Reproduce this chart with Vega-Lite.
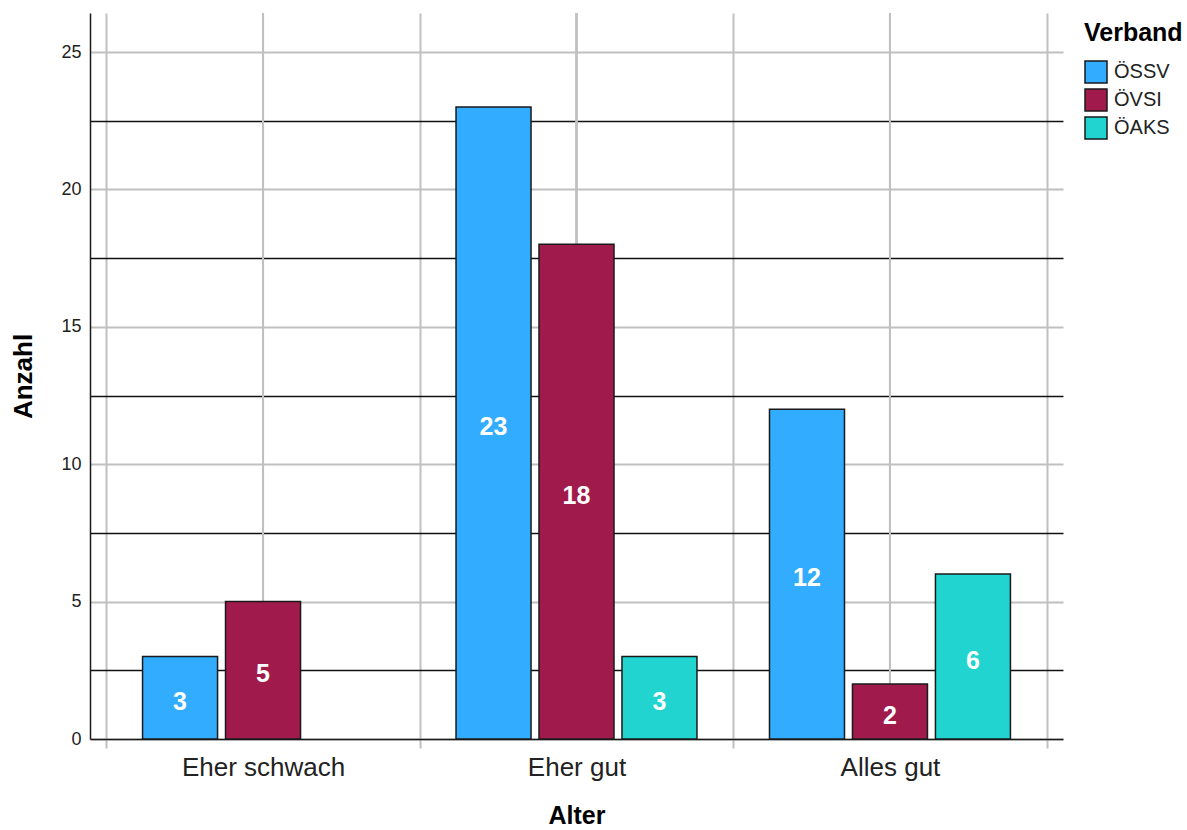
{
  "$schema": "https://vega.github.io/schema/vega-lite/v6.json",
  "autosize": "none",
  "width": 973,
  "height": 726,
  "padding": {"left": 90, "top": 13, "right": 124, "bottom": 91},
  "background": "white",
  "config": {
    "font": "Liberation Sans",
    "view": {"stroke": null}
  },
  "data": {
    "values": [
      {"Alter": "Eher schwach", "Verband": "ÖSSV", "Anzahl": 3},
      {"Alter": "Eher schwach", "Verband": "ÖVSI", "Anzahl": 5},
      {"Alter": "Eher gut", "Verband": "ÖSSV", "Anzahl": 23},
      {"Alter": "Eher gut", "Verband": "ÖVSI", "Anzahl": 18},
      {"Alter": "Eher gut", "Verband": "ÖAKS", "Anzahl": 3},
      {"Alter": "Alles gut", "Verband": "ÖSSV", "Anzahl": 12},
      {"Alter": "Alles gut", "Verband": "ÖVSI", "Anzahl": 2},
      {"Alter": "Alles gut", "Verband": "ÖAKS", "Anzahl": 6}
    ]
  },
  "encoding": {
    "x": {
      "field": "Alter",
      "type": "nominal",
      "sort": ["Eher schwach", "Eher gut", "Alles gut"],
      "scale": {"domain": ["Eher schwach", "Eher gut", "Alles gut"], "paddingInner": 0, "paddingOuter": 0.052},
      "axis": {
        "title": "Alter",
        "titleFontSize": 25,
        "titleFontWeight": "bold",
        "titleColor": "#000000",
        "titlePadding": 23,
        "labelAngle": 0,
        "labelFontSize": 26,
        "labelColor": "#222222",
        "labelPadding": 6,
        "tickBand": "extent",
        "ticks": true,
        "tickSize": 9,
        "tickColor": "#c0c0c0",
        "tickWidth": 2,
        "grid": true,
        "gridColor": "#c0c0c0",
        "gridWidth": 2,
        "domainColor": "#1a1a1a",
        "domainWidth": 1.5
      }
    }
  },
  "layer": [
    {
      "mark": {"type": "rule", "color": "#c0c0c0", "strokeWidth": 2},
      "encoding": {}
    },
    {
      "mark": {"type": "bar", "stroke": "#1a1a1a", "strokeWidth": 1.5},
      "encoding": {
        "xOffset": {
          "field": "Verband",
          "type": "nominal",
          "scale": {"domain": ["ÖSSV", "ÖVSI", "ÖAKS"], "paddingInner": 0.096, "paddingOuter": 0.437}
        },
        "y": {
          "field": "Anzahl",
          "type": "quantitative",
          "scale": {"domain": [0, 26.42], "nice": false, "zero": true},
          "axis": {
            "title": "Anzahl",
            "titleFontSize": 26,
            "titleFontWeight": "bold",
            "titleColor": "#000000",
            "titlePadding": 24,
            "values": [0, 2.5, 5, 7.5, 10, 12.5, 15, 17.5, 20, 22.5, 25],
            "labelExpr": "datum.value % 5 === 0 ? format(datum.value, 'd') : ''",
            "labelOverlap": false,
            "labelFontSize": 18,
            "labelColor": "#222222",
            "labelPadding": 9,
            "ticks": false,
            "grid": true,
            "gridColor": {"condition": {"test": "datum.value % 5 === 0", "value": "#c0c0c0"}, "value": "#111111"},
            "gridWidth": {"condition": {"test": "datum.value % 5 === 0", "value": 2}, "value": 1.5},
            "domainColor": "#1a1a1a",
            "domainWidth": 1.5
          }
        },
        "color": {
          "field": "Verband",
          "type": "nominal",
          "scale": {"domain": ["ÖSSV", "ÖVSI", "ÖAKS"], "range": ["#31acff", "#a01a4b", "#21d4d0"]},
          "legend": {
            "title": "Verband",
            "orient": "right",
            "offset": 13,
            "padding": 8,
            "titleFontSize": 25,
            "titleFontWeight": "bold",
            "titleColor": "#000000",
            "titlePadding": 14,
            "symbolType": "square",
            "symbolSize": 484,
            "symbolStrokeColor": "#1a1a1a",
            "symbolStrokeWidth": 1.5,
            "symbolOpacity": 1,
            "labelFontSize": 20,
            "labelColor": "#222222",
            "labelOffset": 6,
            "rowPadding": 0
          }
        }
      }
    },
    {
      "transform": [{"calculate": "datum.Anzahl / 2", "as": "Mitte"}],
      "mark": {"type": "text", "color": "white", "fontSize": 25, "fontWeight": "bold", "baseline": "middle", "align": "center", "dy": 4},
      "encoding": {
        "xOffset": {"field": "Verband", "type": "nominal"},
        "y": {"field": "Mitte", "type": "quantitative"},
        "text": {"field": "Anzahl", "type": "quantitative"}
      }
    }
  ]
}
